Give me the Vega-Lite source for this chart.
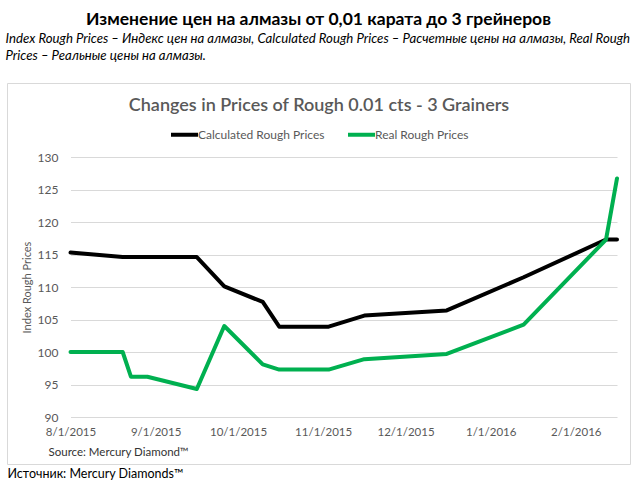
{
  "$schema": "https://vega.github.io/schema/vega-lite/v6.json",
  "width": 623,
  "height": 381,
  "autosize": {"type": "none"},
  "padding": {"left": 7, "top": 83, "right": 10, "bottom": 23},
  "background": "white",
  "config": {
    "view": {"stroke": "#d9d9d9", "strokeWidth": 1},
    "font": "Lato, 'Open Sans', sans-serif"
  },
  "title": {
    "text": "Изменение цен на алмазы от 0,01 карата до 3 грейнеров",
    "fontSize": 17.5,
    "fontWeight": "bold",
    "color": "#000000",
    "anchor": "middle",
    "frame": "group",
    "offset": 3
  },
  "data": {
    "values": [
      {"date": "2015-08-01", "series": "Calculated Rough Prices", "value": 115.3},
      {"date": "2015-08-20", "series": "Calculated Rough Prices", "value": 114.6},
      {"date": "2015-08-23", "series": "Calculated Rough Prices", "value": 114.6},
      {"date": "2015-08-29", "series": "Calculated Rough Prices", "value": 114.6},
      {"date": "2015-09-16", "series": "Calculated Rough Prices", "value": 114.6},
      {"date": "2015-09-26", "series": "Calculated Rough Prices", "value": 110.1},
      {"date": "2015-10-10", "series": "Calculated Rough Prices", "value": 107.7},
      {"date": "2015-10-16", "series": "Calculated Rough Prices", "value": 103.9},
      {"date": "2015-11-03", "series": "Calculated Rough Prices", "value": 103.9},
      {"date": "2015-11-16", "series": "Calculated Rough Prices", "value": 105.6},
      {"date": "2015-12-16", "series": "Calculated Rough Prices", "value": 106.4},
      {"date": "2016-01-13", "series": "Calculated Rough Prices", "value": 111.5},
      {"date": "2016-02-12", "series": "Calculated Rough Prices", "value": 117.3},
      {"date": "2016-02-16", "series": "Calculated Rough Prices", "value": 117.3},
      {"date": "2015-08-01", "series": "Real Rough Prices", "value": 100.0},
      {"date": "2015-08-20", "series": "Real Rough Prices", "value": 100.0},
      {"date": "2015-08-23", "series": "Real Rough Prices", "value": 96.2},
      {"date": "2015-08-29", "series": "Real Rough Prices", "value": 96.2},
      {"date": "2015-09-16", "series": "Real Rough Prices", "value": 94.3},
      {"date": "2015-09-26", "series": "Real Rough Prices", "value": 104.0},
      {"date": "2015-10-10", "series": "Real Rough Prices", "value": 98.1},
      {"date": "2015-10-16", "series": "Real Rough Prices", "value": 97.3},
      {"date": "2015-11-03", "series": "Real Rough Prices", "value": 97.3},
      {"date": "2015-11-16", "series": "Real Rough Prices", "value": 98.9},
      {"date": "2015-12-16", "series": "Real Rough Prices", "value": 99.7},
      {"date": "2016-01-13", "series": "Real Rough Prices", "value": 104.2},
      {"date": "2016-02-12", "series": "Real Rough Prices", "value": 117.3},
      {"date": "2016-02-16", "series": "Real Rough Prices", "value": 126.7}
    ]
  },
  "resolve": {"axis": {"x": "independent", "y": "independent"}},
  "layer": [
    {
      "mark": {"type": "line", "strokeWidth": 4, "strokeJoin": "round", "strokeCap": "round"},
      "encoding": {
        "x": {
          "field": "date",
          "type": "temporal",
          "scale": {
            "type": "utc",
            "domain": [
              {"year": 2015, "month": 8, "date": 1, "utc": true},
              {"year": 2016, "month": 2, "date": 16, "utc": true}
            ],
            "range": [63.5, 610]
          },
          "axis": {
            "orient": "bottom",
            "offset": -47,
            "values": [
              {"year": 2015, "month": 8, "date": 1, "utc": true},
              {"year": 2015, "month": 9, "date": 1, "utc": true},
              {"year": 2015, "month": 10, "date": 1, "utc": true},
              {"year": 2015, "month": 11, "date": 1, "utc": true},
              {"year": 2015, "month": 12, "date": 1, "utc": true},
              {"year": 2016, "month": 1, "date": 1, "utc": true},
              {"year": 2016, "month": 2, "date": 1, "utc": true}
            ],
            "format": "%-m/%-d/%Y",
            "labelFontSize": 11.5,
            "labelColor": "#595959",
            "labelPadding": 9,
            "labelOverlap": false,
            "labelFlush": false,
            "labelBound": false,
            "ticks": false,
            "tickSize": 0,
            "domain": false,
            "grid": false,
            "title": "Source: Mercury Diamond™",
            "titleX": 41,
            "titleY": 35,
            "titleAlign": "left",
            "titleAnchor": "start",
            "titleBaseline": "middle",
            "titleFontSize": 11.5,
            "titleFontWeight": "normal",
            "titleColor": "#333333"
          }
        },
        "y": {
          "field": "value",
          "type": "quantitative",
          "scale": {"domain": [90, 130], "range": [334, 74], "zero": false, "nice": false},
          "axis": {
            "orient": "left",
            "offset": -63,
            "values": [90, 95, 100, 105, 110, 115, 120, 125, 130],
            "labelFontSize": 12,
            "labelColor": "#595959",
            "labelPadding": 12,
            "ticks": false,
            "tickSize": 0,
            "domain": false,
            "grid": true,
            "gridColor": "#d9d9d9",
            "gridWidth": 1,
            "title": "Index Rough Prices",
            "titleX": -43,
            "titleY": 204,
            "titleAngle": -90,
            "titleAlign": "center",
            "titleBaseline": "middle",
            "titleFontSize": 11,
            "titleFontWeight": "normal",
            "titleColor": "#595959"
          }
        },
        "color": {
          "field": "series",
          "type": "nominal",
          "scale": {
            "domain": ["Calculated Rough Prices", "Real Rough Prices"],
            "range": ["#000000", "#00b050"]
          },
          "legend": {
            "orient": "none",
            "legendX": 122,
            "legendY": 14,
            "direction": "horizontal",
            "padding": 0,
            "title": "Changes in Prices of Rough 0.01 cts - 3 Grainers",
            "titleOrient": "top",
            "titleAnchor": "middle",
            "titleLimit": 1000,
            "titleFontSize": 18,
            "titleFontWeight": 600,
            "titleColor": "#595959",
            "titlePadding": 4,
            "labelFontSize": 12,
            "labelColor": "#595959",
            "labelLimit": 1000,
            "labelOffset": -2,
            "symbolType": "stroke",
            "symbolSize": 729,
            "symbolStrokeWidth": 4,
            "columnPadding": 15
          }
        }
      }
    },
    {
      "mark": {"type": "point", "opacity": 0},
      "encoding": {
        "x": {
          "field": "date",
          "type": "temporal",
          "axis": {
            "orient": "top",
            "labels": false,
            "ticks": false,
            "domain": false,
            "grid": false,
            "title": [
              "Index Rough Prices – Индекс цен на алмазы, Calculated Rough Prices – Расчетные цены на алмазы, Real Rough",
              "Prices – Реальные цены на алмазы."
            ],
            "titleX": -2,
            "titleY": -51,
            "titleAlign": "left",
            "titleAnchor": "start",
            "titleBaseline": "top",
            "titleFontSize": 13.2,
            "titleFontStyle": "italic",
            "titleFontWeight": "normal",
            "titleColor": "#000000",
            "titleLineHeight": 17
          }
        },
        "y": {"field": "value", "type": "quantitative", "axis": null}
      }
    },
    {
      "mark": {"type": "point", "opacity": 0},
      "encoding": {
        "x": {
          "field": "date",
          "type": "temporal",
          "axis": {
            "orient": "bottom",
            "labels": false,
            "ticks": false,
            "domain": false,
            "grid": false,
            "title": "Источник: Mercury Diamonds™",
            "titleX": 0,
            "titleY": 9,
            "titleAlign": "left",
            "titleAnchor": "start",
            "titleBaseline": "middle",
            "titleFontSize": 12.5,
            "titleFontWeight": "normal",
            "titleColor": "#000000"
          }
        },
        "y": {"field": "value", "type": "quantitative", "axis": null}
      }
    }
  ]
}
